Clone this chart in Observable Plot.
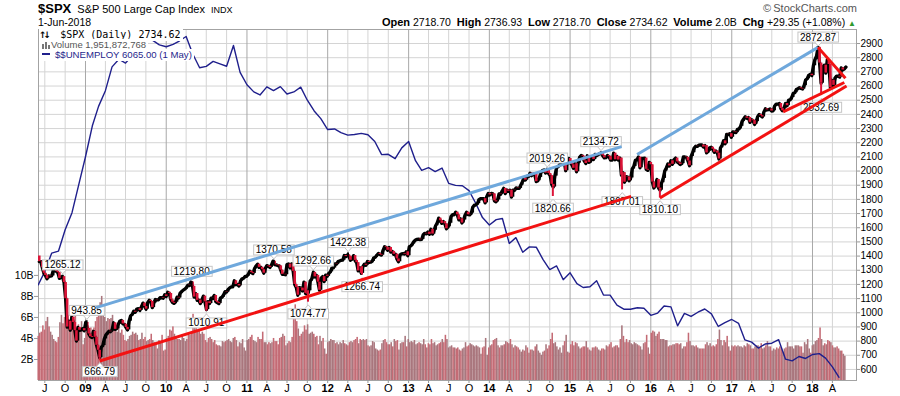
<!DOCTYPE html>
<html><head><meta charset="utf-8">
<script src="https://cdn.jsdelivr.net/npm/d3@7"></script>
<script src="https://cdn.jsdelivr.net/npm/@observablehq/plot@0.6"></script>
<style>
html,body{margin:0;padding:0;background:#fff;}
#wrap{position:relative;width:900px;height:396px;overflow:hidden;font-family:"Liberation Sans",Arial,sans-serif;}
.hd{position:absolute;white-space:nowrap;color:#000;line-height:1;}
.lg{position:absolute;white-space:nowrap;background:#fff;line-height:1;padding:1px 2px 1px 0;}
</style></head><body><div id="wrap"></div>
<script>
// ---------------- DATA ----------------
// weekly S&P 500 closes (Fridays), first week ending 2008-06-06, last 2018-06-01
const weekStart = "2008-06-06";
const spxPrevClose = 1400.4;
const spxClose = [
1360.7,1360.0,1317.9,1278.4,1262.9,1239.5,1260.7,1257.8,1260.3,1296.3,1298.2,1292.2,1282.8,1242.3,1251.7,1255.1,1213.3,1099.2,899.2,940.6,876.8,968.8,931.0,873.3,800.0,896.2,876.1,879.7,887.9,872.8,
931.8,890.4,850.1,832.0,825.9,868.6,826.8,770.1,735.1,683.4,756.6,768.5,815.9,842.5,856.6,869.6,866.2,877.5,929.2,882.9,887.0,919.1,940.1,946.2,921.2,918.9,896.4,879.1,940.4,979.3,987.5,1010.5,1004.1,1026.1,1028.9,1016.4,1042.7,1068.3,1044.4,1025.2,1071.5,1087.7,1079.6,1036.2,1069.3,1093.5,1091.4,1091.5,1106.0,1106.4,1102.5,1126.5,1115.1,
1145.0,1136.0,1091.8,1073.9,1066.2,1075.5,1109.2,1104.5,1138.7,1150.0,1159.9,1166.6,1178.1,1194.4,1192.1,1217.3,1186.7,1110.9,1135.7,1087.7,1089.4,1064.9,1091.6,1117.5,1076.8,1022.6,1078.0,1064.9,1102.7,1101.6,1121.6,1079.3,1071.7,1064.6,1104.5,1109.6,1125.6,1148.7,1146.2,1165.2,1176.2,1183.1,1183.3,1225.9,1199.2,1199.7,1189.4,1224.7,1240.4,1243.9,1256.8,1257.6,
1271.5,1293.2,1283.4,1276.3,1310.9,1329.2,1343.0,1319.9,1321.2,1304.3,1279.2,1313.8,1332.4,1328.2,1319.7,1337.4,1363.6,1340.2,1337.8,1333.3,1331.1,1300.2,1271.0,1271.5,1268.5,1339.7,1343.8,1316.1,1345.0,1292.3,1199.4,1178.8,1123.5,1176.8,1174.0,1154.2,1216.0,1136.4,1131.4,1155.5,1224.6,1238.3,1285.1,1253.2,1263.9,1215.7,1158.7,1244.3,1255.2,1219.7,1265.3,1257.6,
1277.8,1289.1,1315.4,1316.3,1344.9,1342.6,1361.2,1365.7,1370.0,1370.9,1404.2,1397.1,1408.5,1398.1,1370.3,1378.5,1403.4,1369.1,1353.4,1295.2,1317.8,1278.0,1325.7,1342.8,1335.0,1362.2,1354.7,1356.8,1362.7,1386.0,1391.0,1405.9,1418.2,1411.1,1406.6,1437.9,1465.8,1460.2,1440.7,1460.9,1428.6,1433.2,1411.9,1414.2,1379.9,1359.9,1409.2,1416.2,1418.1,1413.6,1430.2,1402.4,
1466.5,1472.1,1486.0,1503.0,1513.2,1517.9,1519.8,1515.6,1518.2,1551.2,1560.7,1556.9,1569.2,1553.3,1588.9,1555.3,1582.2,1614.4,1633.7,1667.5,1649.6,1630.7,1643.4,1626.7,1592.4,1606.3,1631.9,1680.2,1692.1,1691.7,1709.7,1691.4,1655.8,1663.5,1633.0,1655.2,1688.0,1709.9,1691.8,1690.5,1703.2,1744.5,1759.8,1761.6,1770.6,1798.2,1804.8,1805.8,1805.1,1775.3,1818.3,1841.4,
1831.4,1842.4,1838.7,1790.3,1782.6,1797.0,1838.6,1836.2,1859.5,1878.0,1841.1,1866.5,1857.6,1865.1,1815.7,1864.9,1863.4,1881.1,1878.5,1877.9,1900.5,1923.6,1949.4,1936.2,1962.9,1961.0,1985.4,1967.6,1978.2,1978.3,1925.2,1931.6,1955.1,1988.4,2003.4,2007.7,1985.5,2010.4,1982.9,1967.9,1906.1,1886.8,1964.6,2018.1,2031.9,2039.8,2063.5,2067.6,2075.4,2002.3,2070.7,2088.8,
2058.2,2044.8,2019.4,2051.8,1995.0,2055.5,2097.0,2110.3,2104.5,2071.3,2053.4,2108.1,2061.0,2067.0,2102.1,2081.2,2117.7,2108.3,2116.1,2122.7,2126.1,2107.4,2092.8,2094.1,2110.0,2101.5,2076.8,2076.6,2126.6,2079.7,2103.8,2077.6,2091.5,1970.9,1988.9,1921.2,1961.1,1958.0,1931.3,1951.4,2014.9,2033.1,2075.2,2079.4,2099.2,2023.0,2089.2,2090.1,2091.7,2012.4,2005.6,2061.0,2043.9,
1922.0,1880.3,1906.9,1940.2,1880.1,1864.8,1917.8,1948.1,2000.0,2022.2,2049.6,2035.9,2072.8,2047.6,2080.7,2091.6,2065.3,2057.1,2046.6,2052.3,2099.1,2099.1,2096.1,2071.2,2037.4,2103.0,2129.9,2161.7,2175.0,2173.6,2182.9,2184.1,2183.9,2169.0,2180.0,2128.0,2139.2,2164.7,2168.3,2153.7,2133.0,2141.2,2126.4,2085.2,2164.5,2182.0,2213.4,2192.0,2259.5,2258.1,2263.8,2238.8,
2277.0,2274.6,2271.3,2294.7,2297.4,2316.1,2351.2,2367.3,2383.1,2372.6,2378.3,2344.0,2362.7,2355.5,2329.0,2348.7,2384.2,2399.3,2390.9,2381.7,2415.8,2439.1,2431.8,2433.2,2438.3,2423.4,2425.2,2459.3,2472.5,2472.1,2476.8,2441.3,2425.6,2443.1,2476.6,2461.4,2500.2,2502.2,2519.4,2549.3,2553.2,2575.2,2581.1,2587.8,2582.3,2578.9,2602.4,2642.2,2651.5,2675.8,2683.3,2673.6,
2743.2,2786.2,2810.3,2872.9,2762.1,2619.6,2732.2,2747.3,2691.3,2786.6,2752.0,2588.3,2640.9,2604.5,2656.3,2670.1,2669.9,2663.4,2727.7,2713.0,2721.3,2734.6
];
// weekly average daily volume, billions
const spxVolume = [
4.2,4.5,4.6,5.2,4.8,5.6,6.0,5.1,4.6,4.3,3.9,3.7,3.6,4.1,5.5,6.2,5.4,6.0,7.0,6.2,5.6,5.8,5.0,5.4,6.1,4.2,5.3,5.0,5.6,3.4,
4.0,4.6,5.2,4.9,5.0,4.8,5.0,5.6,6.0,6.6,7.4,8.0,6.8,6.0,5.6,5.9,5.8,5.9,6.2,5.2,4.7,4.6,5.0,4.5,4.8,4.3,3.8,3.7,3.9,4.2,4.3,4.6,4.4,4.5,4.3,3.8,3.9,4.5,3.9,4.1,3.7,3.8,3.9,4.4,3.8,3.6,3.5,3.0,3.8,3.7,4.3,2.8,2.9,
4.0,4.2,4.8,4.7,5.1,4.4,4.0,3.9,3.9,3.8,4.3,4.0,3.7,3.9,4.5,4.3,4.4,6.3,5.2,5.6,4.6,4.7,4.4,4.6,4.4,3.8,3.6,4.0,4.1,3.9,3.6,3.8,3.4,3.3,3.3,3.2,3.7,3.6,3.7,3.8,3.9,3.7,3.6,4.0,4.1,3.8,3.2,3.6,3.5,3.9,3.1,2.8,
3.8,3.9,4.1,4.3,3.8,3.7,3.6,4.1,3.9,3.9,4.6,3.6,3.6,3.4,3.6,3.5,3.6,4.0,3.7,3.7,3.4,4.0,4.1,4.4,4.2,3.3,3.5,3.7,3.6,4.1,6.4,7.2,5.6,4.9,4.2,4.4,4.6,5.2,4.8,5.3,4.4,4.5,4.6,4.4,4.1,4.2,3.4,4.2,3.7,4.0,3.0,2.5,
3.6,3.7,3.9,3.8,3.8,3.5,3.6,3.4,3.6,3.5,3.8,3.5,3.4,3.3,3.6,3.7,3.6,3.8,3.9,4.1,3.5,3.9,3.8,3.9,3.8,3.9,3.3,3.2,3.3,3.7,3.6,3.0,2.9,2.8,2.9,3.5,3.8,3.9,3.6,3.4,3.4,3.6,3.2,3.9,3.7,3.8,2.9,3.5,3.6,3.6,4.2,3.2,
3.9,3.6,3.7,3.6,3.8,3.4,3.5,3.6,3.5,3.4,3.9,3.4,3.1,3.5,3.4,3.9,3.5,3.6,3.3,3.4,3.5,3.6,3.9,3.6,4.3,3.9,3.1,3.2,3.3,3.1,3.1,3.0,3.1,2.9,2.8,3.0,3.1,3.6,3.2,3.3,3.5,3.4,3.3,3.2,3.3,3.2,3.1,2.5,3.1,3.2,4.0,2.4,
3.1,3.3,3.4,3.8,3.9,4.0,3.3,3.1,3.3,3.3,3.4,3.7,3.6,3.5,3.9,3.4,3.1,3.3,3.2,3.1,2.9,2.7,2.9,2.8,3.3,3.1,2.6,2.9,2.9,2.8,3.2,3.4,2.8,2.6,2.4,2.7,2.8,3.4,3.0,3.3,3.9,4.5,3.5,3.6,3.2,2.9,3.1,2.6,3.3,3.7,4.3,2.7,
2.6,3.4,3.7,3.3,3.6,3.5,3.2,3.0,3.1,3.2,3.2,3.7,3.1,2.9,2.8,3.1,3.1,3.2,3.1,2.9,2.8,3.0,3.0,2.9,3.3,3.2,3.4,3.6,3.1,3.2,3.3,3.3,3.1,3.9,5.2,4.2,3.6,3.9,3.6,3.8,3.5,3.4,3.6,3.5,3.4,3.3,3.2,2.9,3.5,3.6,4.3,3.1,2.5,
4.5,4.7,4.6,4.2,4.4,4.6,3.9,3.9,3.9,3.8,3.8,3.2,3.3,3.3,3.4,3.4,3.5,3.5,3.4,3.5,3.0,3.2,3.2,3.6,4.5,3.7,3.3,3.3,3.2,3.3,3.1,3.0,3.0,3.0,3.0,3.4,3.6,3.3,3.5,3.2,3.3,3.2,3.4,3.9,4.8,3.8,3.3,3.8,3.6,4.2,3.2,2.8,
3.3,3.2,3.3,3.2,3.3,3.2,3.2,3.1,3.3,3.2,3.5,3.4,3.3,3.0,3.0,3.2,3.3,3.3,3.1,3.5,3.0,3.1,3.3,3.7,3.2,3.2,2.8,3.0,2.9,3.1,3.0,3.2,3.1,2.7,3.0,3.1,3.6,3.2,3.2,3.2,3.0,3.3,3.3,3.3,3.2,3.2,2.6,3.6,3.4,3.9,3.0,2.6,
3.3,3.4,3.7,3.8,4.0,5.0,3.9,3.3,3.5,3.4,3.8,3.7,3.6,3.3,3.1,3.1,3.2,3.0,2.8,2.8,2.5,2.3
];
// $$UNEMPLOY monthly (thousands), Jun 2008 .. May 2018
const unempStart = "2008-06-01";
const unempValues = [
8575,8937,9438,9494,10074,10538,11286,
12058,12898,13426,13853,14499,14707,14601,14814,15009,15352,15219,15098,
15046,15113,15202,15325,14849,14474,14512,14648,14579,14516,15081,14348,
14013,13820,13737,13957,13855,13962,13763,13818,13948,13594,13302,13093,
12797,12813,12713,12646,12660,12692,12656,12471,12115,12124,12005,12298,
12471,11950,11689,11760,11654,11751,11335,11279,11270,11136,10787,10404,
10202,10349,10380,9702,9859,9460,9608,9599,9262,8990,9090,8717,
8903,8610,8504,8526,8689,8300,8297,8024,7914,7914,7953,7942,
7748,7809,8003,7978,7463,7800,7717,7832,7920,7789,7445,7547,
7635,7528,7083,7020,6858,6967,6991,7086,6556,6512,6630,6576,
6684,6706,6585,6346,6065
];
// labelled highs and lows
const annDates  = ["2008-09-19","2009-01-06","2009-03-06","2010-04-26","2010-07-01","2011-05-02","2011-10-04","2011-10-27","2012-04-02","2012-06-04","2014-09-19","2014-10-15","2015-05-20","2015-08-24","2016-02-11","2018-01-26","2018-02-09"];
const annValues = [1265.12,943.85,666.79,1219.80,1010.91,1370.58,1074.77,1292.66,1422.38,1266.74,2019.26,1820.66,2134.72,1867.01,1810.10,2872.87,2532.69];
const annSide   = ["above","above","below","above","below","above","below","above","above","below","above","below","above","below","below","above","below"];
// hand-drawn trendlines
const blueTrend = [
  {d1:"2009-02-18", v1:1036, d2:"2015-08-22", v2:2172},
  {d1:"2015-10-31", v1:2117, d2:"2018-01-26", v2:2872.87}
];
const redTrend = [
  {d1:"2009-03-06", v1:660, d2:"2015-10-04", v2:1821},
  {d1:"2016-02-11", v1:1810.10, d2:"2018-06-04", v2:2600},
  {d1:"2017-08-21", v1:2417, d2:"2018-05-25", v2:2625},
  {d1:"2018-01-26", v1:2872.87, d2:"2018-05-30", v2:2655}
];
// axis ticks
const priceTicks = [600,700,800,900,1000,1100,1200,1300,1400,1500,1600,1700,1800,1900,2000,2100,2200,2300,2400,2500,2600,2700,2800,2900];
const volTickValues = [2,4,6,8,10];
const volTickLabels = ["2B","4B","6B","8B","10B"];
const xTickDates = ["2008-07-01","2008-10-01",
 "2009-01-01","2009-04-01","2009-07-01","2009-10-01",
 "2010-01-01","2010-04-01","2010-07-01","2010-10-01",
 "2011-01-01","2011-04-01","2011-07-01","2011-10-01",
 "2012-01-01","2012-04-01","2012-07-01","2012-10-01",
 "2013-01-01","2013-04-01","2013-07-01","2013-10-01",
 "2014-01-01","2014-04-01","2014-07-01","2014-10-01",
 "2015-01-01","2015-04-01","2015-07-01","2015-10-01",
 "2016-01-01","2016-04-01","2016-07-01","2016-10-01",
 "2017-01-01","2017-04-01","2017-07-01","2017-10-01",
 "2018-01-01","2018-04-01"];
const xTickLabels = ["J","O",
 "09","A","J","O","10","A","J","O","11","A","J","O","12","A","J","O","13","A","J","O",
 "14","A","J","O","15","A","J","O","16","A","J","O","17","A","J","O","18","A"];

// ---------------- BUILD ----------------
const wrap = document.getElementById("wrap");
const D = s => new Date(s + "T00:00:00Z");
const t0 = D(weekStart);
const weeks = spxClose.map((c, i) => ({date: d3.utcDay.offset(t0, 7 * i), close: c, prev: i ? spxClose[i - 1] : spxPrevClose, vol: spxVolume[i]}));
const upW = weeks.filter(d => d.close >= d.prev), dnW = weeks.filter(d => d.close < d.prev);
const unemp = unempValues.map((v, i) => ({date: d3.utcMonth.offset(D(unempStart), i), value: v}));
const ann = annDates.map((s, i) => {
  const date = D(s);
  const wk = weeks.find(w => w.date >= date) || weeks[weeks.length - 1];
  return {date, value: annValues[i], side: annSide[i], from: wk.close};
});
const annAbove = ann.filter(a => a.side === "above"), annBelow = ann.filter(a => a.side === "below");
const ticks = xTickDates.map((s, i) => ({date: D(s), label: xTickLabels[i]}));
const monthTicks = ticks.filter(t => t.label.length === 1).map(t => t.date);
const yearTicks = ticks.filter(t => t.label.length === 2).map(t => t.date);
const labelOf = d => (ticks.find(t => +t.date === +d) || {label: ""}).label;
const trend = arr => arr.map(t => ({x1: D(t.d1), y1: t.v1, x2: D(t.d2), y2: t.v2}));

const xDomain = [new Date("2008-06-02T12:00:00Z"), new Date("2018-07-19T00:00:00Z")];
const priceDomain = [522, 2999];
const volDomain = [0, 33.4];
const unempDomain = [5977, 15515];
const RED = "#dc1438";

function mk(opts) {
  const svg = Plot.plot({
    width: 900, height: 396, marginTop: 29, marginRight: 44, marginBottom: 16, marginLeft: 38,
    ...opts,
    style: {position: "absolute", left: "0px", top: "0px", background: "transparent", overflow: "visible",
            fontFamily: "'Liberation Sans', Arial, sans-serif", fontSize: "10px", color: "#000"}
  });
  wrap.appendChild(svg);
  return svg;
}

// grid + axes
mk({
  x: {type: "utc", domain: xDomain},
  y: {domain: priceDomain},
  marks: [
    Plot.ruleY(priceTicks, {stroke: "#d4d4d4"}),
    Plot.ruleX(monthTicks, {stroke: "#d4d4d4"}),
    Plot.ruleX(yearTicks, {stroke: "#a8a8a8"}),
    Plot.frame({stroke: "#a3a3a3"}),
    Plot.axisY({anchor: "right", ticks: priceTicks, tickFormat: d => String(d), tickSize: 3, tickPadding: 1, label: null, fontSize: 10, stroke: "#999"}),
    Plot.axisX({ticks: monthTicks, tickFormat: labelOf, tickSize: 3, tickPadding: 1, label: null, fontSize: 11, stroke: "#999"}),
    Plot.axisX({ticks: yearTicks, tickFormat: labelOf, tickSize: 3, tickPadding: 1, label: null, fontSize: 11, fontWeight: "bold", stroke: "#999"})
  ]
});

// volume
mk({
  x: {type: "utc", domain: xDomain, axis: null},
  y: {domain: volDomain},
  marks: [
    Plot.rect(upW, {x1: d => d3.utcDay.offset(d.date, -6), x2: d => d3.utcDay.offset(d.date, 1), y1: 0, y2: "vol", fill: "#a9767d"}),
    Plot.rect(dnW, {x1: d => d3.utcDay.offset(d.date, -6), x2: d => d3.utcDay.offset(d.date, 1), y1: 0, y2: "vol", fill: "#c46b75"}),
    Plot.axisY({anchor: "left", ticks: volTickValues, tickFormat: d => volTickLabels[volTickValues.indexOf(d)], tickSize: 4, tickPadding: 1, label: null, fontSize: 10.5, stroke: "#999"})
  ]
});

// unemployment
mk({
  x: {type: "utc", domain: xDomain, axis: null},
  y: {domain: unempDomain, axis: null},
  marks: [Plot.line(unemp, {x: "date", y: "value", stroke: "#1f1f8c", strokeWidth: 1.4, clip: true})]
});

// price, annotations, trendlines (trendlines drawn over the labels)
const priceSvg = mk({
  x: {type: "utc", domain: xDomain, axis: null},
  y: {domain: priceDomain, axis: null},
  marks: [
    Plot.line(weeks, {x: "date", y: "close", stroke: "#000", strokeWidth: 3.3}),
    Plot.ruleX(upW, {x: "date", y1: "prev", y2: "close", stroke: "#000", strokeWidth: 2.6}),
    Plot.ruleX(dnW, {x: "date", y1: "prev", y2: "close", stroke: RED, strokeWidth: 2.6}),
    Plot.ruleX(annBelow, {x: "date", y1: "from", y2: "value", stroke: RED, strokeWidth: 2}),
    Plot.ruleX(annAbove, {x: "date", y1: "from", y2: "value", stroke: "#000", strokeWidth: 2}),
    Plot.text(annAbove, {x: "date", y: "value", text: d => d.value.toFixed(2), dy: -10, fontSize: 10, fill: "#000", lineAnchor: "middle"}),
    Plot.text(annBelow, {x: "date", y: "value", text: d => d.value.toFixed(2), dy: 12, fontSize: 10, fill: "#000", lineAnchor: "middle"}),
    Plot.link(trend(blueTrend), {x1: "x1", y1: "y1", x2: "x2", y2: "y2", stroke: "#6fa8dc", strokeWidth: 3}),
    Plot.link(trend(redTrend), {x1: "x1", y1: "y1", x2: "x2", y2: "y2", stroke: "#f21212", strokeWidth: 3})
  ]
});

// boxes behind annotation labels (first text group = labels above, second = below)
(function boxify(svg) {
  const ns = "http://www.w3.org/2000/svg";
  const groups = Array.from(svg.querySelectorAll("g")).filter(g => Array.from(g.children).some(c => c.tagName.toLowerCase() === "text"));
  groups.forEach((g, gi) => {
    const below = gi === 1;
    Array.from(g.querySelectorAll("text")).forEach(t => {
      const b = t.getBBox();
      const tr = t.getAttribute("transform");
      const r = document.createElementNS(ns, "rect");
      r.setAttribute("x", b.x - 2); r.setAttribute("y", b.y + 0.5);
      r.setAttribute("width", b.width + 4); r.setAttribute("height", b.height - 1);
      r.setAttribute("fill", "#fff"); r.setAttribute("stroke", "#c6c6c6");
      const p = document.createElementNS(ns, "path");
      const cx = b.x + b.width / 2;
      const yb = below ? b.y + 0.5 : b.y + b.height - 0.5;
      const tip = below ? yb - 4 : yb + 4;
      p.setAttribute("d", `M${cx - 3.5},${yb}L${cx},${tip}L${cx + 3.5},${yb}`);
      p.setAttribute("fill", "#fff"); p.setAttribute("stroke", "#c6c6c6");
      if (tr) { r.setAttribute("transform", tr); p.setAttribute("transform", tr); }
      t.parentNode.insertBefore(r, t); t.parentNode.insertBefore(p, t);
    });
  });
})(priceSvg);

// ---------------- TEXT (header + legend) ----------------
const html = `
<div class="hd" style="left:38px;top:2px;font-size:11px;"><b style="font-size:13px;">$SPX</b>&nbsp; S&amp;P 500 Large Cap Index&nbsp; <span style="font-size:9px;">INDX</span></div>
<div class="hd" style="left:38px;top:17px;font-size:10.5px;">1-Jun-2018</div>
<div class="hd" style="right:43px;top:3px;font-size:11px;color:#555;">&#169;&thinsp;StockCharts.com</div>
<div class="hd" style="right:44px;top:17px;font-size:10.5px;">
<b style="font-size:11px">Open</b> 2718.70&nbsp;&nbsp;<b style="font-size:11px">High</b> 2736.93&nbsp;&nbsp;<b style="font-size:11px">Low</b> 2718.70&nbsp;&nbsp;<b style="font-size:11px">Close</b> 2734.62&nbsp;&nbsp;<b style="font-size:11px">Volume</b> 2.0B&nbsp;&nbsp;<b style="font-size:11px">Chg</b> +29.35 (+1.08%) <span style="color:#2e9a2e;font-size:8px;">&#9650;</span></div>
<div class="lg" style="left:39px;top:28.5px;font-family:'DejaVu Sans Mono',monospace;font-size:10px;"><span style="font-family:'DejaVu Sans';font-size:9px;letter-spacing:-3px;font-weight:bold;">&#8593;&#8595;</span>&nbsp; $SPX (Daily) 2734.62</div>
<div class="lg" style="left:39px;top:39px;font-size:9.5px;color:#555;"><svg width="12" height="8" style="vertical-align:-1px"><rect x="3" y="3" width="2" height="5" fill="#777"/><rect x="6" y="1" width="2" height="7" fill="#777"/><rect x="9" y="4" width="2" height="4" fill="#777"/></svg>Volume 1,951,872,768</div>
<div class="lg" style="left:39px;top:49.4px;font-size:9.6px;color:#1f1f8c;"><span style="display:inline-block;width:8px;height:2px;background:#1f1f8c;vertical-align:3px;margin:0 5px 0 3px;"></span>$$UNEMPLOY 6065.00 (1 May)</div>
`;
wrap.insertAdjacentHTML("beforeend", html);
</script></body></html>
